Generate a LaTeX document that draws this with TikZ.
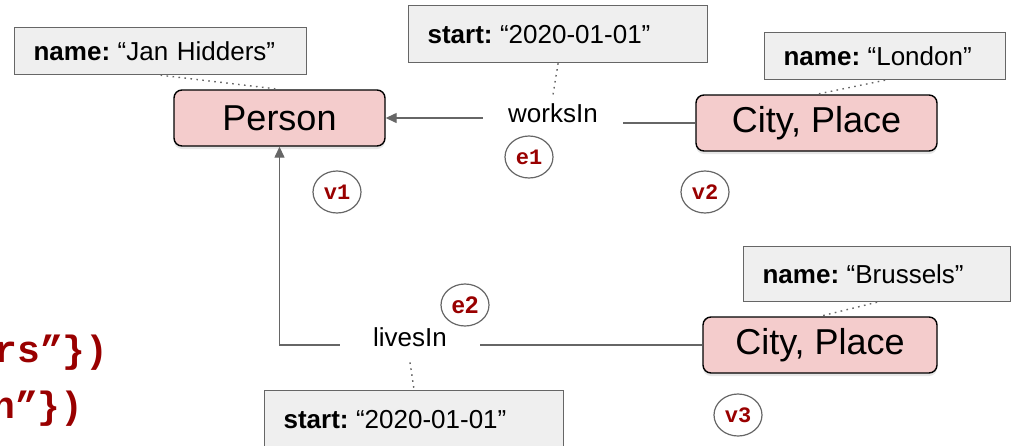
\documentclass[tikz,border=0pt]{standalone}
\usepackage{fontspec}
\setmainfont{Liberation Sans}
\setmonofont{Liberation Mono}
\usetikzlibrary{arrows.meta,shadows,shapes.geometric}
\definecolor{nodepink}{HTML}{F4CCCC}
\definecolor{propgray}{HTML}{EFEFEF}
\definecolor{linegray}{HTML}{666666}
\definecolor{idred}{HTML}{990000}
\newcommand{\propkey}[1]{\textbf{#1:}\kern-0.6pt\ }

\begin{document}
\begin{tikzpicture}[
    x = 0.5pt, y = -0.5pt,
    vertex/.style = {draw = black, line width = 0.7pt, fill = nodepink,
        rounded corners = 4pt, minimum height = 28pt, inner sep = 0pt,
        font = \fontsize{18}{20}\selectfont,
        drop shadow = {shadow xshift = 0pt, shadow yshift = -1.5pt, opacity = 0.2}},
    prop/.style = {draw = linegray, line width = 0.6pt, fill = propgray,
        anchor = north west, align = left, inner xsep = 9.5pt, inner ysep = 0pt,
        font = \fontsize{13}{15}\selectfont},
    edgelabel/.style = {anchor = base, inner ysep = 4pt, text depth = 4pt,
        font = \fontsize{13}{15}\selectfont},
    ident/.style = {draw = linegray, line width = 0.6pt, ellipse, inner sep = 0pt,
        minimum width = 24pt, minimum height = 21pt, text = idred,
        font = \fontsize{11}{11}\selectfont\ttfamily\bfseries},
    code/.style = {anchor = base east, inner sep = 0pt, text = idred,
        font = \fontsize{19}{19}\selectfont\ttfamily\bfseries},
    link/.style = {draw = linegray, line width = 0.7pt},
    tie/.style = {draw = linegray, line width = 0.7pt, dash pattern = on 0.8pt off 2.2pt}]

\useasboundingbox (0,0) rectangle (1011,445);
\clip (0,0) rectangle (1011,445);

% vertices
\node[vertex, minimum width = 105.5pt] (person) at (279.5,118) {Person};
\node[vertex, minimum width = 120.5pt] (cityw) at (816.5,123) {City, Place};
\node[vertex, minimum width = 117pt] (cityl) at (820,345) {City, Place};

% properties
\node[prop, text width = 127pt, minimum height = 23.5pt] (janprop) at (14,27)
    {\propkey{name}“Jan Hidders”};
\node[prop, text width = 130.5pt, minimum height = 28.5pt] (startw) at (408,5)
    {\propkey{start}“2020-01-01”};
\node[prop, text width = 101.5pt, minimum height = 23.5pt] (londonprop) at (764,32)
    {\propkey{name}“London”};
\node[prop, text width = 114.5pt, minimum height = 27.5pt] (brusprop) at (743,246)
    {\propkey{name}“Brussels”};
\node[prop, text width = 130.5pt, minimum height = 28.5pt] (startl) at (264,390)
    {\propkey{start}“2020-01-01”};

% edges
\node[edgelabel, inner xsep = 12.5pt] (worksin) at (553,122) {worksIn};
\node[edgelabel, inner xsep = 16.5pt] (livesin) at (410,346) {livesIn};

\draw[link, -{Triangle[length = 5.5pt, width = 5pt]}] (worksin.west |- person.east) -- (person.east);
\draw[link] (worksin.east |- cityw.west) -- (cityw.west);
\draw[link, -{Triangle[length = 5.5pt, width = 5pt]}] (livesin.west |- cityl.west) -| (person.south);
\draw[link] (livesin.east |- cityl.west) -- (cityl.west);

\draw[tie] (janprop.south) -- (person.north);
\draw[tie] (startw.south) -- (worksin.north);
\draw[tie] (londonprop.south) -- (cityw.north);
\draw[tie] (brusprop.south) -- (cityl.north);
\draw[tie] (livesin.south) -- (startl.north);

% identifiers
\node[ident] (idv1) at (337,192) {v1};
\node[ident] (idv2) at (705,192) {v2};
\node[ident] (idv3) at (738,415) {v3};
\node[ident] (ide1) at (529,157) {e1};
\node[ident, font = \fontsize{12}{12}\selectfont\bfseries] (ide2) at (465,305) {e2};

% query text cut off at the left
\node[code] (codea) at (109,362) {rs”\})};
\node[code] (codeb) at (84,418) {n”\})};
\end{tikzpicture}
\end{document}
